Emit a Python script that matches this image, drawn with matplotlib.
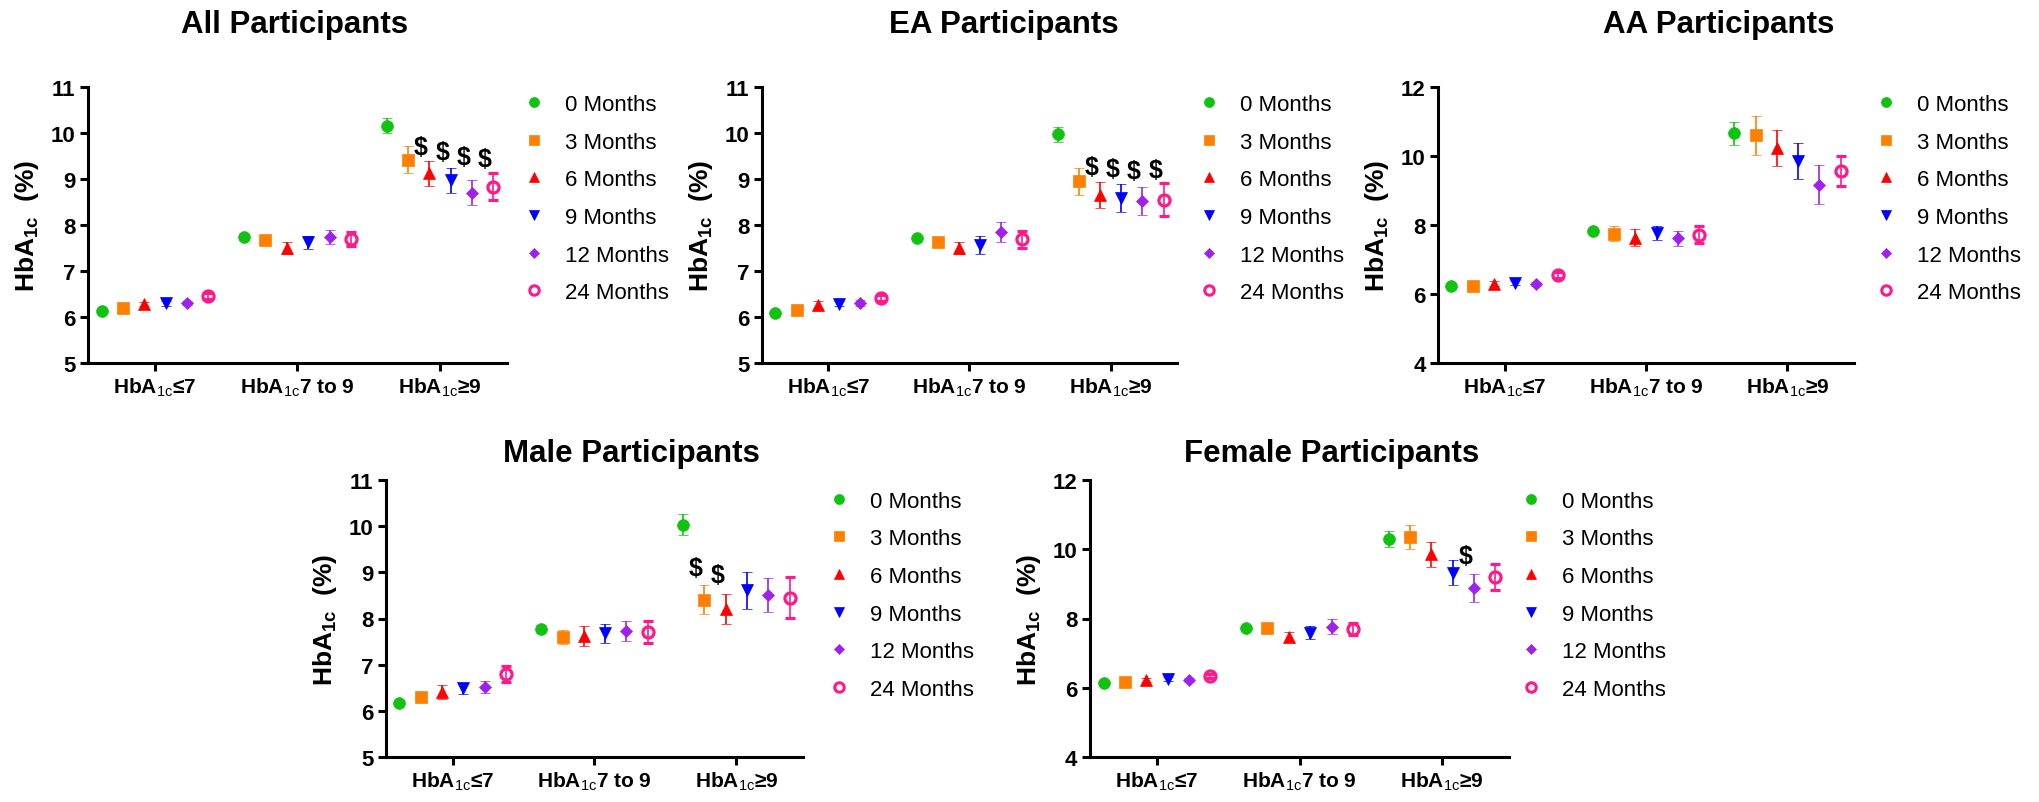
import matplotlib
matplotlib.use("Agg")
import matplotlib.pyplot as plt
from matplotlib.lines import Line2D
import numpy as np

plt.rcParams['font.family'] = ['Liberation Sans', 'DejaVu Sans']
plt.rcParams['mathtext.fontset'] = 'custom'
plt.rcParams['mathtext.rm'] = 'Liberation Sans'
plt.rcParams['mathtext.bf'] = 'Liberation Sans:bold'
plt.rcParams['mathtext.it'] = 'Liberation Sans:italic'

# ---------------- data ----------------
categories = [r"HbA$_{\mathrm{1c}}$≤7", r"HbA$_{\mathrm{1c}}$7 to 9", r"HbA$_{\mathrm{1c}}$≥9"]
series_labels = ["0 Months", "3 Months", "6 Months", "9 Months", "12 Months", "24 Months"]

# means[group][timepoint]
all_mean = [[6.14, 6.19, 6.28, 6.30, 6.30, 6.46],
            [7.75, 7.67, 7.51, 7.62, 7.74, 7.70],
            [10.16, 9.42, 9.12, 8.97, 8.70, 8.83]]
all_err = [[0.03, 0.04, 0.05, 0.05, 0.04, 0.06],
           [0.05, 0.06, 0.13, 0.14, 0.16, 0.15],
           [0.16, 0.29, 0.28, 0.27, 0.27, 0.29]]

ea_mean = [[6.09, 6.16, 6.27, 6.29, 6.31, 6.41],
           [7.72, 7.63, 7.50, 7.57, 7.84, 7.69],
           [9.97, 8.95, 8.65, 8.59, 8.52, 8.55]]
ea_err = [[0.03, 0.04, 0.07, 0.06, 0.06, 0.07],
          [0.05, 0.07, 0.14, 0.20, 0.22, 0.19],
          [0.17, 0.29, 0.29, 0.30, 0.31, 0.36]]

aa_mean = [[6.22, 6.24, 6.30, 6.33, 6.30, 6.55],
           [7.82, 7.75, 7.63, 7.77, 7.62, 7.72],
           [10.66, 10.60, 10.24, 9.86, 9.17, 9.57]]
aa_err = [[0.04, 0.06, 0.07, 0.07, 0.06, 0.10],
          [0.06, 0.21, 0.25, 0.20, 0.22, 0.24],
          [0.34, 0.56, 0.52, 0.52, 0.57, 0.44]]

male_mean = [[6.17, 6.29, 6.40, 6.49, 6.51, 6.80],
             [7.77, 7.60, 7.62, 7.68, 7.73, 7.71],
             [10.03, 8.41, 8.21, 8.61, 8.50, 8.45]]
male_err = [[0.06, 0.05, 0.15, 0.12, 0.13, 0.18],
            [0.08, 0.15, 0.22, 0.21, 0.21, 0.23],
            [0.23, 0.32, 0.33, 0.40, 0.37, 0.44]]

female_mean = [[6.14, 6.18, 6.22, 6.25, 6.22, 6.34],
               [7.74, 7.74, 7.47, 7.59, 7.76, 7.69],
               [10.29, 10.35, 9.86, 9.32, 8.89, 9.20]]
female_err = [[0.03, 0.04, 0.05, 0.05, 0.05, 0.05],
              [0.05, 0.07, 0.13, 0.19, 0.22, 0.18],
              [0.23, 0.35, 0.36, 0.36, 0.40, 0.37]]

# significance markers ($): (timepoint index, y position) in the HbA1c>=9 group
all_sig = [(2, 9.69), (3, 9.58), (4, 9.48), (5, 9.44)]
ea_sig = [(2, 9.26), (3, 9.21), (4, 9.17), (5, 9.20)]
aa_sig = []
male_sig = [(1, 9.10), (2, 8.95)]
female_sig = [(4, 9.80)]

titles = ["All Participants", "EA Participants", "AA Participants",
          "Male Participants", "Female Participants"]

# ---------------- styles ----------------
colors = ["#10C310", "#FF8000", "#FF0000", "#0000FF", "#A020F0", "#FF1A8C"]
markers = ["o", "s", "^", "v", "D", "o"]
msizes = [8.5, 8, 9, 9, 6.3, 8]

W, H = 2040, 803
fig = plt.figure(figsize=(W / 100, H / 100), dpi=100)

# axes boxes in pixels: left, right, top, bottom
boxes = [(88, 507, 88, 364), (762, 1177, 88, 364), (1438, 1854, 88, 364),
         (386, 803, 481, 758), (1090, 1509, 481, 758)]
title_x = [295, 1004, 1719, 631, 1332]
title_y = [25, 25, 25, 454, 454]
legend_x = [523, 1198, 1875, 828, 1520]
legend_y = [0.975, 0.975, 0.975, 0.962, 0.962]
ylims = [(5, 11), (5, 11), (4, 12), (5, 11), (4, 12)]
yticks = [np.arange(5, 12, 1), np.arange(5, 12, 1), np.arange(4, 13, 2),
          np.arange(5, 12, 1), np.arange(4, 13, 2)]

panels = [(all_mean, all_err, all_sig), (ea_mean, ea_err, ea_sig),
          (aa_mean, aa_err, aa_sig), (male_mean, male_err, male_sig),
          (female_mean, female_err, female_sig)]

spacing = 0.15
offsets = (np.arange(6) - 2.5) * spacing
gpos = np.arange(3)

for p, (means, errs, sig) in enumerate(panels):
    l, r, t, b = boxes[p]
    ax = fig.add_axes([l / W, 1 - b / H, (r - l) / W, (b - t) / H])
    m = np.array(means)
    e = np.array(errs)
    for s in range(6):
        x = gpos + offsets[s]
        open_m = (s == 5)
        ax.errorbar(x, m[:, s], yerr=e[:, s], fmt=markers[s], color=colors[s],
                    ms=msizes[s], mfc="none" if open_m else colors[s],
                    mew=2.3 if open_m else 0.5, elinewidth=1.2, capsize=3.8,
                    capthick=1.2, zorder=3)
    for (s, yv) in sig:
        ax.text(2 + offsets[s] - 0.06, yv, r"\$", ha="center", va="center",
                fontsize=18, fontweight="bold", color="black")
    ax.set_xlim(-0.47, 2.47)
    ax.set_ylim(*ylims[p])
    ax.set_yticks(yticks[p])
    ax.set_xticks(gpos)
    ax.set_xticklabels(categories, fontsize=15, fontweight="bold")
    for lab in ax.get_yticklabels():
        lab.set_fontsize(16)
        lab.set_fontweight("bold")
    ax.spines["top"].set_visible(False)
    ax.spines["right"].set_visible(False)
    ax.spines["left"].set_linewidth(2.2)
    ax.spines["bottom"].set_linewidth(2.2)
    ax.tick_params(axis="both", direction="out", length=6, width=2.2, pad=3)
    ax.set_ylabel(r"HbA$_{\mathbf{1c}}$  (%)", fontsize=19, fontweight="bold")
    ax.yaxis.set_label_coords(-47 / (r - l), 0.5)

    handles = [Line2D([], [], linestyle="none", marker=markers[s], color=colors[s],
                      ms=msizes[s] * 0.85, mfc="none" if s == 5 else colors[s],
                      mew=2.2 if s == 5 else 0.5)
               for s in range(6)]
    ax.legend(handles, series_labels, loc="upper left",
              bbox_to_anchor=((legend_x[p] - l) / (r - l), legend_y[p]),
              frameon=False, fontsize=16, handlelength=1.0, handletextpad=0.9,
              labelspacing=0.75, borderaxespad=0, borderpad=0)

    fig.text(title_x[p] / W, 1 - title_y[p] / H, titles[p], ha="center",
             va="center", fontsize=22.5, fontweight="bold")

fig.savefig("out.png", dpi=100)
